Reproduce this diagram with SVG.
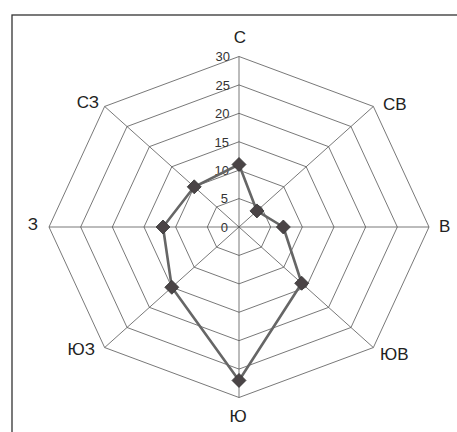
<svg xmlns="http://www.w3.org/2000/svg" width="457" height="432" viewBox="0 0 457 432">
<style>
.frame{fill:none;stroke:#333;stroke-width:1.3}
.grid{fill:none;stroke:#555;stroke-width:0.8}
.axis{stroke:#555;stroke-width:0.8}
.data{fill:none;stroke:#666;stroke-width:2.6;stroke-linejoin:round}
.mk{fill:#4a4446;stroke:#333;stroke-width:0.8}
.dir{font-family:"Liberation Sans",Arial,sans-serif;font-size:17px;fill:#222}
.num{font-family:"Liberation Sans",Arial,sans-serif;font-size:13px;fill:#333;text-anchor:end}
</style>
<defs>
<path id="dia" class="mk" d="M0,-7 L7,0 L0,7 L-7,0 Z"/>
</defs>
<rect class="frame" x="12" y="15" width="470" height="440"/>
<g id="grid">
<polygon class="grid" points="239,198.58 261.39,206.91 270.67,227 261.39,247.09 239,255.42 216.61,247.09 207.33,227 216.61,206.91"/>
<polygon class="grid" points="239,170.17 283.78,186.81 302.33,227 283.78,267.19 239,283.83 194.22,267.19 175.67,227 194.22,186.81"/>
<polygon class="grid" points="239,141.75 306.18,166.72 334,227 306.18,287.28 239,312.25 171.82,287.28 144,227 171.82,166.72"/>
<polygon class="grid" points="239,113.33 328.57,146.63 365.67,227 328.57,307.37 239,340.67 149.43,307.37 112.33,227 149.43,146.63"/>
<polygon class="grid" points="239,84.92 350.96,126.53 397.33,227 350.96,327.47 239,369.08 127.04,327.47 80.67,227 127.04,126.53"/>
<polygon class="grid" points="239,56.5 373.35,106.44 429,227 373.35,347.56 239,397.5 104.65,347.56 49,227 104.65,106.44"/>
<line class="axis" x1="239" y1="227" x2="239" y2="56.5"/>
<line class="axis" x1="239" y1="227" x2="373.35" y2="106.44"/>
<line class="axis" x1="239" y1="227" x2="429" y2="227"/>
<line class="axis" x1="239" y1="227" x2="373.35" y2="347.56"/>
<line class="axis" x1="239" y1="227" x2="239" y2="397.5"/>
<line class="axis" x1="239" y1="227" x2="104.65" y2="347.56"/>
<line class="axis" x1="239" y1="227" x2="49" y2="227"/>
<line class="axis" x1="239" y1="227" x2="104.65" y2="106.44"/>
</g>
<g id="scale">
<text class="num" x="228" y="231.8">0</text>
<text class="num" x="228" y="203.3">5</text>
<text class="num" x="229" y="175">10</text>
<text class="num" x="229" y="146.5">15</text>
<text class="num" x="229.5" y="118.1">20</text>
<text class="num" x="230" y="89.7">25</text>
<text class="num" x="230" y="61.3">30</text>
</g>
<g id="labels">
<text class="dir" x="240" y="42.5" text-anchor="middle">С</text>
<text class="dir" x="383" y="110">СВ</text>
<text class="dir" x="439" y="232">В</text>
<text class="dir" x="380" y="360">ЮВ</text>
<text class="dir" x="238" y="421.7" text-anchor="middle">Ю</text>
<text class="dir" x="95" y="355" text-anchor="end">ЮЗ</text>
<text class="dir" x="38" y="230" text-anchor="end">З</text>
<text class="dir" x="99" y="108" text-anchor="end">СЗ</text>
</g>
<g id="connectors">
<polygon class="data" points="239,164.48 256.91,210.93 283.33,227 301.7,283.26 239,380.45 171.82,287.28 163,227 194.22,186.81"/>
</g>
<g id="markers">
<use href="#dia" x="239" y="164.48"/>
<use href="#dia" x="256.91" y="210.93"/>
<use href="#dia" x="283.33" y="227"/>
<use href="#dia" x="301.7" y="283.26"/>
<use href="#dia" x="239" y="380.45"/>
<use href="#dia" x="171.82" y="287.28"/>
<use href="#dia" x="163" y="227"/>
<use href="#dia" x="194.22" y="186.81"/>
</g>
</svg>
